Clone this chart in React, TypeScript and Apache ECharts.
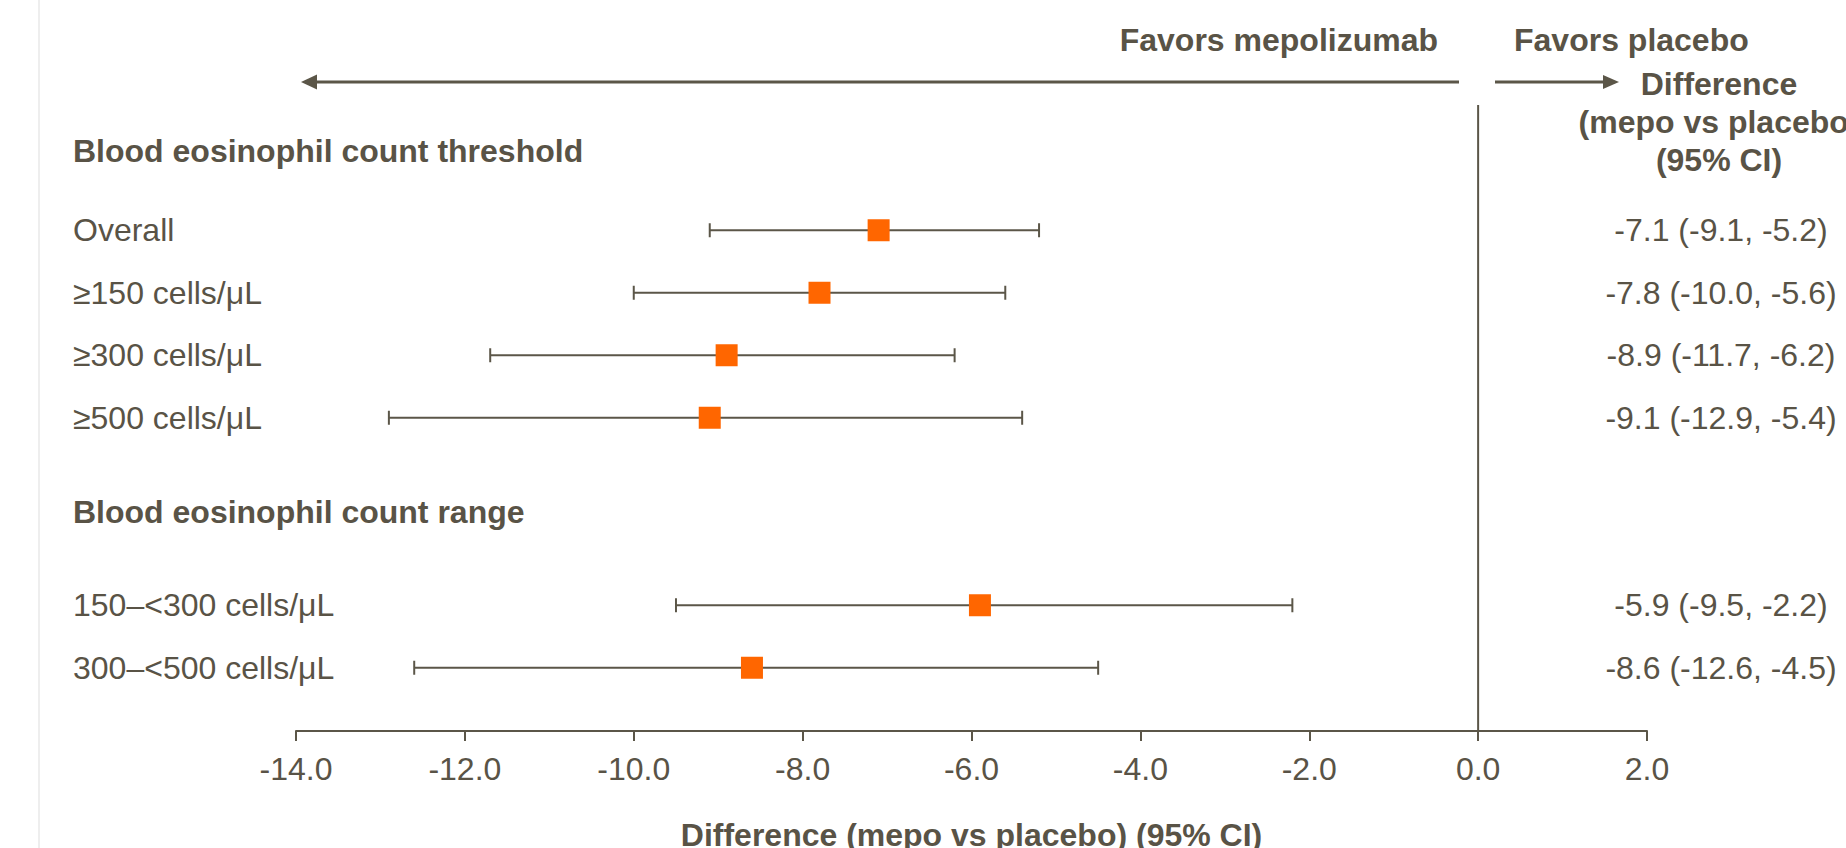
import React, { useEffect, useRef } from "react";
import * as echarts from "echarts";

// ---- data ----
const rowLabels = [
  "Overall",
  "≥150 cells/μL",
  "≥300 cells/μL",
  "≥500 cells/μL",
  "150–<300 cells/μL",
  "300–<500 cells/μL",
];
const estimates = [-7.1, -7.8, -8.9, -9.1, -5.9, -8.6];
const lowerCI = [-9.1, -10.0, -11.7, -12.9, -9.5, -12.6];
const upperCI = [-5.2, -5.6, -6.2, -5.4, -2.2, -4.5];
// category slots (blank spacer slots between the two groups)
const categories = [
  "Overall",
  "≥150 cells/μL",
  "≥300 cells/μL",
  "≥500 cells/μL",
  " ",
  "  ",
  "150–<300 cells/μL",
  "300–<500 cells/μL",
];
const groupHeaders = ["Blood eosinophil count threshold", "Blood eosinophil count range"];
const xTicks = { min: -14, max: 2, interval: 2 };
const xAxisTitle = "Difference (mepo vs placebo) (95% CI)";
const columnHeader = "Difference\n(mepo vs placebo)\n(95% CI)";
const favorLeft = "Favors mepolizumab";
const favorRight = "Favors placebo";

const TEXT = "#595346";
const LINE = "#5b5648";
const ORANGE = "#FF6600";
const FONT = "'Liberation Sans', Arial, Helvetica, sans-serif";

export default function App() {
  const ref = useRef<HTMLDivElement>(null);
  useEffect(() => {
    if (!ref.current) return;
    const chart = echarts.init(ref.current, undefined, { renderer: "svg" });

    const ciText = categories.map((c) => {
      const i = rowLabels.indexOf(c);
      if (i < 0) return c;
      return `${estimates[i].toFixed(1)} (${lowerCI[i].toFixed(1)}, ${upperCI[i].toFixed(1)})`;
    });

    const option: any = {
      animation: false,
      backgroundColor: "#ffffff",
      textStyle: { fontFamily: FONT },
      grid: [
        { left: 296, right: 199, top: 199, height: 500, outerBoundsMode: "none", containLabel: false },
        { left: 296, right: 199, top: 105, bottom: 117, outerBoundsMode: "none", containLabel: false },
      ],
      xAxis: [
        {
          type: "value",
          gridIndex: 0,
          min: xTicks.min,
          max: xTicks.max,
          interval: xTicks.interval,
          offset: 32,
          position: "bottom",
          splitLine: { show: false },
          axisLine: { show: true, lineStyle: { color: LINE, width: 2 } },
          axisTick: { show: true, length: 10, lineStyle: { color: LINE, width: 2 } },
          axisLabel: {
            color: TEXT,
            fontSize: 32,
            fontFamily: FONT,
            margin: 22,
            formatter: (v: number) => v.toFixed(1),
          },
          name: xAxisTitle,
          nameLocation: "middle",
          nameGap: 88,
          nameTextStyle: { color: TEXT, fontSize: 32, fontWeight: "bold", fontFamily: FONT },
        },
        {
          type: "value",
          gridIndex: 1,
          min: xTicks.min,
          max: xTicks.max,
          show: false,
        },
      ],
      yAxis: [
        {
          type: "category",
          gridIndex: 0,
          data: categories,
          inverse: true,
          position: "left",
          axisLine: { show: false },
          axisTick: { show: false },
          splitLine: { show: false },
          axisLabel: {
            interval: 0,
            align: "left",
            margin: 223,
            color: TEXT,
            fontSize: 32,
            fontFamily: FONT,
          },
        },
        {
          type: "category",
          gridIndex: 0,
          data: ciText,
          inverse: true,
          position: "right",
          axisLine: { show: false },
          axisTick: { show: false },
          splitLine: { show: false },
          axisLabel: {
            interval: 0,
            align: "center",
            margin: 74,
            color: TEXT,
            fontSize: 32,
            fontFamily: FONT,
          },
        },
        {
          type: "value",
          gridIndex: 1,
          min: 0,
          max: 1,
          show: false,
        },
      ],
      series: [
        {
          type: "line",
          xAxisIndex: 1,
          yAxisIndex: 2,
          data: [
            [0, 0],
            [0, 1],
          ],
          symbol: "none",
          lineStyle: { color: LINE, width: 2 },
          silent: true,
        },
        {
          type: "custom",
          xAxisIndex: 0,
          yAxisIndex: 0,
          data: rowLabels.map((n, i) => [lowerCI[i], upperCI[i], n]),
          encode: { x: [0, 1], y: 2 },
          renderItem: (params: any, api: any) => {
            const y = api.value(2);
            const a = api.coord([api.value(0), y]);
            const b = api.coord([api.value(1), y]);
            const h = 7;
            const st = { stroke: LINE, lineWidth: 2 };
            return {
              type: "group",
              children: [
                { type: "line", shape: { x1: a[0], y1: a[1], x2: b[0], y2: b[1] }, style: st },
                { type: "line", shape: { x1: a[0], y1: a[1] - h, x2: a[0], y2: a[1] + h }, style: st },
                { type: "line", shape: { x1: b[0], y1: b[1] - h, x2: b[0], y2: b[1] + h }, style: st },
              ],
            };
          },
          z: 2,
        },
        {
          type: "scatter",
          xAxisIndex: 0,
          yAxisIndex: 0,
          data: rowLabels.map((n, i) => [estimates[i], n]),
          symbol: "rect",
          symbolSize: 22,
          itemStyle: { color: ORANGE, opacity: 1 },
          z: 5,
        },
      ],
      graphic: [
        {
          type: "line",
          shape: { x1: 39, y1: 0, x2: 39, y2: 848 },
          style: { stroke: "#eeeeee", lineWidth: 2 },
        },
        {
          type: "line",
          shape: { x1: 1459, y1: 82, x2: 314, y2: 82 },
          style: { stroke: LINE, lineWidth: 3 },
        },
        {
          type: "polygon",
          shape: { points: [[301, 82], [317, 74.5], [317, 89.5]] },
          style: { fill: LINE },
        },
        {
          type: "line",
          shape: { x1: 1495, y1: 82, x2: 1605, y2: 82 },
          style: { stroke: LINE, lineWidth: 3 },
        },
        {
          type: "polygon",
          shape: { points: [[1619, 82], [1603, 75], [1603, 89]] },
          style: { fill: LINE },
        },
        {
          type: "text",
          x: 1438,
          y: 40,
          style: {
            text: favorLeft,
            fill: TEXT,
            font: `bold 32px ${FONT}`,
            textAlign: "right",
            textVerticalAlign: "middle",
          },
        },
        {
          type: "text",
          x: 1514,
          y: 40,
          style: {
            text: favorRight,
            fill: TEXT,
            font: `bold 32px ${FONT}`,
            textAlign: "left",
            textVerticalAlign: "middle",
          },
        },
        {
          type: "text",
          x: 1719,
          y: 122,
          style: {
            text: columnHeader,
            fill: TEXT,
            font: `bold 32px ${FONT}`,
            lineHeight: 38,
            textAlign: "center",
            textVerticalAlign: "middle",
          },
        },
        {
          type: "text",
          x: 73,
          y: 151,
          style: {
            text: groupHeaders[0],
            fill: TEXT,
            font: `bold 32px ${FONT}`,
            textAlign: "left",
            textVerticalAlign: "middle",
          },
        },
        {
          type: "text",
          x: 73,
          y: 512,
          style: {
            text: groupHeaders[1],
            fill: TEXT,
            font: `bold 32px ${FONT}`,
            textAlign: "left",
            textVerticalAlign: "middle",
          },
        },
      ],
    };

    chart.setOption(option);
    return () => chart.dispose();
  }, []);

  return (
    <div
      ref={ref}
      style={{ position: "absolute", left: 0, top: 0, width: 1846, height: 848, background: "#fff" }}
    />
  );
}
